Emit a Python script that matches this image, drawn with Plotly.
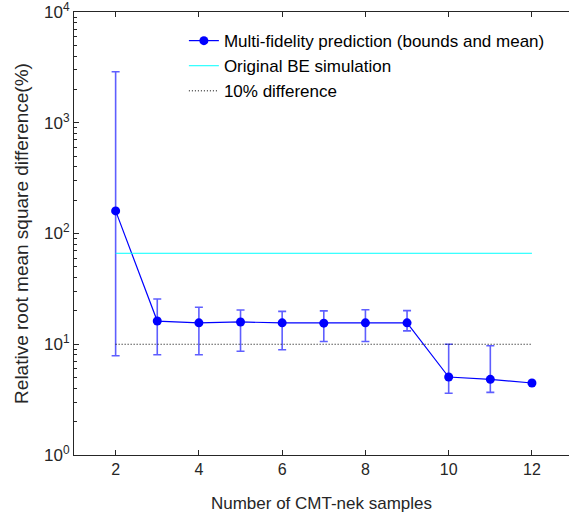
import plotly.graph_objects as go

samples = [2, 3, 4, 5, 6, 7, 8, 9, 10, 11, 12]
mean_vals = [160, 16.2, 15.6, 15.9, 15.6, 15.5, 15.6, 15.6, 5.06, 4.82, 4.47]
upper_vals = [2890, 25.6, 21.6, 20.4, 19.8, 20.0, 20.5, 20.1, 10.0, 9.7, 4.47]
lower_vals = [7.88, 8.05, 8.05, 8.64, 8.93, 10.6, 10.6, 13.2, 3.61, 3.68, 4.47]
be_sim_x = [2, 12]
be_sim_y = [66.3, 66.3]
ten_pct_x = [2, 12]
ten_pct_y = [10, 10]
ytick_vals = [1, 10, 100, 1000, 10000]
ytick_text = ["10<sup>0</sup>", "10<sup>1</sup>", "10<sup>2</sup>", "10<sup>3</sup>", "10<sup>4</sup>"]
yminor_vals = [m * 10 ** d for d in range(4) for m in range(2, 10)]

err_plus = [u - m for u, m in zip(upper_vals, mean_vals)]
err_minus = [m - l for m, l in zip(mean_vals, lower_vals)]

fig = go.Figure()
fig.add_trace(go.Scatter(
    x=samples, y=mean_vals, mode="lines+markers",
    name="Multi-fidelity prediction (bounds and mean)",
    line=dict(color="#0000ff", width=1.2),
    marker=dict(color="#0000ff", size=9),
    error_y=dict(type="data", symmetric=False, array=err_plus, arrayminus=err_minus,
                 color="rgba(40,40,255,0.75)", thickness=1.6, width=4),
))
fig.add_trace(go.Scatter(
    x=be_sim_x, y=be_sim_y, mode="lines", name="Original BE simulation",
    line=dict(color="#00ffff", width=1),
))
fig.add_trace(go.Scatter(
    x=ten_pct_x, y=ten_pct_y, mode="lines", name="10% difference",
    line=dict(color="#000000", width=1, dash="1px,2px"),
))

font_family = "Liberation Sans, Arial, Helvetica, sans-serif"
fig.update_layout(
    width=569, height=518,
    margin=dict(l=74, r=0, t=12, b=63),
    paper_bgcolor="white", plot_bgcolor="white",
    font=dict(family=font_family, color="#262626", size=16),
    showlegend=True,
    legend=dict(x=0.222, y=0.975, xanchor="left", yanchor="top",
                bgcolor="rgba(0,0,0,0)", borderwidth=0,
                font=dict(size=17, color="#000000"), itemwidth=30,
                tracegroupgap=0),
    xaxis=dict(range=[1, 12.89], tickvals=[2, 4, 6, 8, 10, 12],
               ticks="inside", ticklen=5, tickcolor="#262626",
               showline=True, linecolor="#262626", linewidth=1, mirror="ticks",
               showgrid=False, zeroline=False,
               tickfont=dict(size=16, color="#262626"),
               title=dict(text="Number of CMT-nek samples", font=dict(size=17, color="#262626"), standoff=19)),
    yaxis=dict(type="log", range=[0, 4], tickvals=ytick_vals, ticktext=ytick_text,
               ticks="inside", ticklen=5, tickcolor="#262626",
               showline=True, linecolor="#262626", linewidth=1, mirror=False,
               showgrid=False, zeroline=False, ticklabeloverflow="allow",
               minor=dict(tickvals=yminor_vals, ticks="inside", ticklen=3, tickcolor="#262626", showgrid=False),
               tickfont=dict(size=17, color="#262626"),
               title=dict(text="Relative root mean square difference(%)", font=dict(size=19, color="#262626"), standoff=10)),
)

fig.write_html("out.html")
